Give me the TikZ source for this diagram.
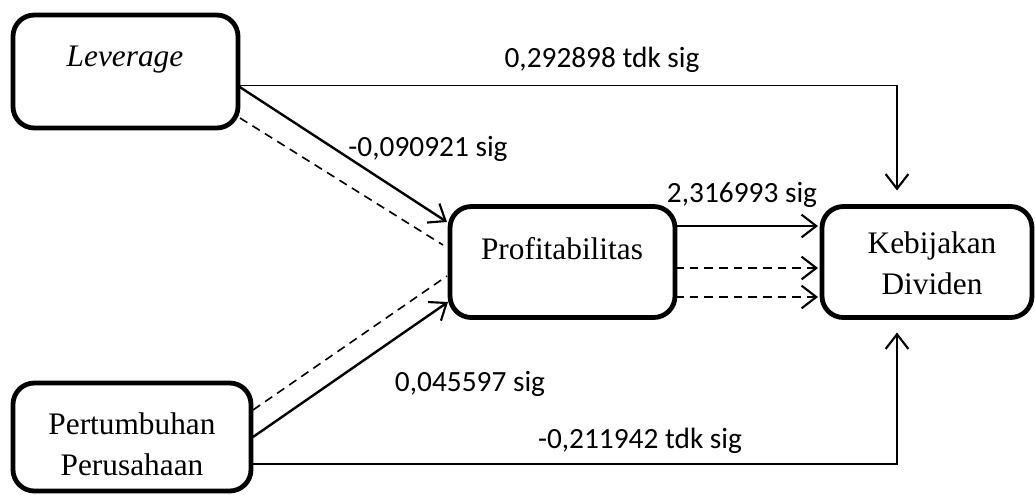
\documentclass[tikz,border=0pt]{standalone}
\usepackage{fontspec}
\setmainfont{Liberation Serif}
\newfontfamily\labfont{Carlito}
\usetikzlibrary{arrows.meta,calc}
\begin{document}
\begin{tikzpicture}[x=0.75pt,y=-0.75pt,
  box/.style={draw=black,line width=3.6pt,rounded corners=16pt,inner sep=0pt,outer sep=0pt},
  boxtext/.style={font=\fontsize{23.5}{31}\selectfont,align=center,inner sep=0pt},
  lab/.style={font=\labfont\fontsize{22}{26}\selectfont,inner sep=0pt},
  arr/.style={-{Straight Barb[length=11pt,width=17pt,line width=1.6pt]}},
  sline/.style={line width=1.8pt},
  tline/.style={line width=1.4pt},
  dline/.style={line width=1.2pt,dash pattern=on 6.5pt off 4.5pt}]
\useasboundingbox (0,0) rectangle (1035,494);
% boxes
\node[box,minimum width=168.75pt,minimum height=84.75pt] (lev) at (125.5,71.5) {};
\node[box,minimum width=168.75pt,minimum height=83.25pt] (prof) at (562.5,262) {};
\node[box,minimum width=157.5pt,minimum height=83.25pt] (keb) at (927,262) {};
\node[box,minimum width=178.5pt,minimum height=81pt] (pert) at (132,437) {};
% box texts
\node[boxtext] (levt) at (125,60) {\textit{Leverage}};
\node[boxtext] (proft) at (562,249) {Profitabilitas};
\node[boxtext] (kebt) at (932,263) {Kebijakan\\Dividen};
\node[boxtext] (pertt) at (132,444) {Pertumbuhan\\Perusahaan};
% connectors
\draw[tline,arr] ($(lev.east)+(0,14)$) -| ($(keb.north)+(-30,-16)$);
\draw[sline,arr] ($(lev.east)+(1,15)$) -- ($(prof.west)+(-3,-40)$);
\draw[dline] ($(lev.south east)+(2,-10)$) -- ($(prof.west)+(-7,-17)$);
\draw[sline,arr] ($(pert.east)+(2,0)$) -- ($(prof.west)+(-2,40)$);
\draw[dline] ($(pert.east)+(2,-27)$) -- ($(prof.west)+(-3,14)$);
\draw[tline,arr] ($(pert.east)+(-1,27)$) -| ($(keb.south)+(-30,15)$);
\draw[sline,arr] ($(prof.east)+(0,-36)$) -- ($(keb.west)+(-4,-36)$);
\draw[dline,arr] ($(prof.east)+(0,6)$) -- ($(keb.west)+(-4,6)$);
\draw[dline,arr] ($(prof.east)+(0,35)$) -- ($(keb.west)+(-4,35)$);
% labels
\node[lab] (l1) at (602,60) {0,292898 tdk sig};
\node[lab] (l2) at (428,149) {-0,090921 sig};
\node[lab] (l3) at (742,195) {2,316993 sig};
\node[lab] (l4) at (470,384) {0,045597 sig};
\node[lab] (l5) at (640,441) {-0,211942 tdk sig};
\end{tikzpicture}
\end{document}
